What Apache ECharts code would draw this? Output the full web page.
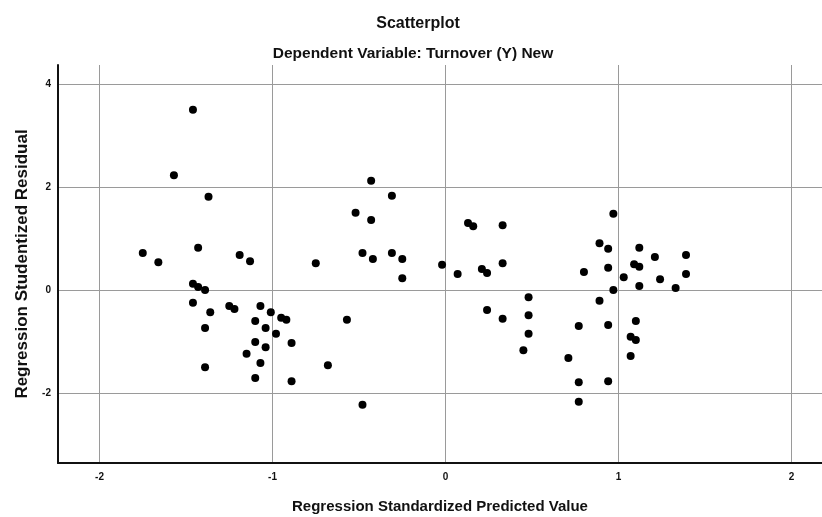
<!DOCTYPE html>
<html>
<head>
<meta charset="utf-8">
<script src="https://cdn.jsdelivr.net/npm/echarts@6/dist/echarts.min.js"></script>
<style>html,body{margin:0;padding:0;background:#fff;}#c{width:822px;height:517px;}</style>
</head>
<body>
<div id="c"></div>
<script>
const chartTitle = "Scatterplot";
const chartSubtitle = "Dependent Variable: Turnover (Y) New";
const xAxisName = "Regression Standardized Predicted Value";
const yAxisName = "Regression Studentized Residual";

const predictedValues = [
  -1.46, -1.57, -1.37, -1.75, -1.66, -1.43, -1.19, -1.13, -0.75, -1.46,
  -1.43, -1.39, -1.46, -1.36, -1.25, -1.22, -1.39, -1.39, -1.07, -1.01,
  -1.10, -0.95, -0.92, -1.04, -0.98, -1.10, -1.04, -0.89, -1.15, -1.07,
  -1.10, -0.89, -0.68, -0.43, -0.31, -0.52, -0.43, -0.48, -0.42, -0.31,
  -0.25, -0.25, -0.02, 0.07, 0.13, 0.16, 0.33, 0.21, 0.24, 0.33,
  -0.57, -0.48, 0.24, 0.33, 0.48, 0.48, 0.48, 0.45, 0.97, 0.89,
  0.94, 1.12, 1.21, 1.39, 1.39, 0.80, 0.94, 1.03, 1.09, 1.12,
  1.24, 1.33, 1.12, 0.97, 0.89, 0.77, 0.94, 1.10, 1.07, 1.10,
  1.07, 0.71, 0.77, 0.94, 0.77
];
const residuals = [
  3.50, 2.23, 1.81, 0.72, 0.54, 0.82, 0.68, 0.56, 0.52, 0.12,
  0.06, 0.00, -0.25, -0.43, -0.31, -0.37, -0.74, -1.50, -0.31, -0.43,
  -0.60, -0.54, -0.58, -0.74, -0.85, -1.01, -1.11, -1.03, -1.24, -1.42,
  -1.71, -1.77, -1.46, 2.12, 1.83, 1.50, 1.36, 0.72, 0.60, 0.72,
  0.60, 0.23, 0.49, 0.31, 1.30, 1.24, 1.26, 0.41, 0.33, 0.52,
  -0.58, -2.23, -0.39, -0.56, -0.14, -0.49, -0.85, -1.17, 1.48, 0.91,
  0.80, 0.82, 0.64, 0.68, 0.31, 0.35, 0.43, 0.25, 0.50, 0.45,
  0.21, 0.04, 0.08, 0.00, -0.21, -0.70, -0.68, -0.60, -0.91, -0.97,
  -1.28, -1.32, -1.79, -1.77, -2.17
];

const points = predictedValues.map((x, i) => [x, residuals[i]]);

const chart = echarts.init(document.getElementById('c'));
const fontFam = '"Liberation Sans", Arial, sans-serif';
chart.setOption({
  backgroundColor: '#ffffff',
  animation: false,
  title: [
    { text: chartTitle, left: 413, textAlign: 'center', top: 11,
      textStyle: { fontFamily: fontFam, fontSize: 16, fontWeight: 'bold', color: '#111' } },
    { text: chartSubtitle, left: 408, textAlign: 'center', top: 41,
      textStyle: { fontFamily: fontFam, fontSize: 15.5, fontWeight: 'bold', color: '#111' } }
  ],
  grid: { left: 58, right: 0, top: 65, bottom: 54, containLabel: false, outerBoundsMode: 'none' },
  xAxis: {
    type: 'value',
    min: -2.24, max: 2.176,
    splitNumber: 4,
    name: xAxisName,
    nameLocation: 'middle',
    nameGap: 36,
    nameTextStyle: { fontFamily: fontFam, fontSize: 15, fontWeight: 'bold', color: '#111' },
    axisLine: { onZero: false, lineStyle: { color: '#111', width: 2 } },
    axisTick: { show: false },
    axisLabel: { showMinLabel: false, showMaxLabel: false, margin: 9,
      fontFamily: fontFam, fontSize: 10, fontWeight: 'bold', color: '#111' },
    splitLine: { show: true, showMinLine: false, showMaxLine: false, lineStyle: { color: '#9a9a9a', width: 1 } }
  },
  yAxis: {
    type: 'value',
    min: -3.36, max: 4.37,
    splitNumber: 4,
    name: yAxisName,
    nameLocation: 'middle',
    nameGap: 25,
    nameTextStyle: { fontFamily: fontFam, fontSize: 17, fontWeight: 'bold', color: '#111' },
    axisLine: { show: true, onZero: false, lineStyle: { color: '#111', width: 2 } },
    axisTick: { show: false },
    axisLabel: { showMinLabel: false, showMaxLabel: false, margin: 7,
      fontFamily: fontFam, fontSize: 10, fontWeight: 'bold', color: '#111' },
    splitLine: { show: true, showMinLine: false, showMaxLine: false, lineStyle: { color: '#9a9a9a', width: 1 } }
  },
  series: [{
    type: 'scatter',
    data: points,
    symbol: 'circle',
    symbolSize: 8,
    itemStyle: { color: '#000', opacity: 1 }
  }]
});
</script>
</body>
</html>
